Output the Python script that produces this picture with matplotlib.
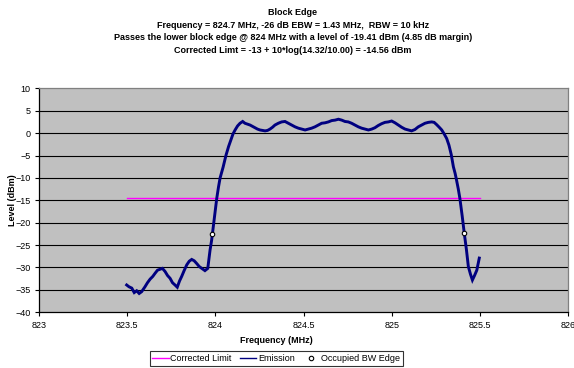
import matplotlib
matplotlib.use("Agg")
import matplotlib.pyplot as plt
from matplotlib.lines import Line2D

plt.rcParams.update({
    "font.family": ["Liberation Sans", "DejaVu Sans"],
    "font.size": 6.5,
})

TITLE = ("Block Edge\n"
         "Frequency = 824.7 MHz, -26 dB EBW = 1.43 MHz,  RBW = 10 kHz\n"
         "Passes the lower block edge @ 824 MHz with a level of -19.41 dBm (4.85 dB margin)\n"
         "Corrected Limt = -13 + 10*log(14.32/10.00) = -14.56 dBm")

# emission trace (centre of the noisy band)
emis_f = [823.497, 823.51, 823.526, 823.54, 823.554, 823.568, 823.582, 823.601,
          823.615, 823.63, 823.645, 823.658, 823.672, 823.686, 823.70, 823.715,
          823.729, 823.743, 823.757, 823.771, 823.784, 823.797, 823.809, 823.824,
          823.838, 823.852, 823.866, 823.880, 823.894, 823.909, 823.923, 823.941,
          823.957, 823.970, 823.979, 823.983, 823.995, 824.008, 824.018, 824.027,
          824.044, 824.06, 824.075, 824.089, 824.10, 824.112, 824.126, 824.14,
          824.155, 824.168, 824.183, 824.197, 824.211, 824.225, 824.239, 824.253,
          824.268, 824.282, 824.296, 824.31, 824.324, 824.338, 824.357, 824.376,
          824.395, 824.414, 824.433, 824.452, 824.471, 824.49, 824.509, 824.527,
          824.546, 824.565, 824.584, 824.603, 824.622, 824.641, 824.66, 824.679,
          824.698, 824.717, 824.735, 824.754, 824.773, 824.792, 824.811, 824.83,
          824.849, 824.868, 824.887, 824.905, 824.924, 824.943, 824.962, 824.981,
          825.0, 825.019, 825.038, 825.057, 825.076, 825.095, 825.113, 825.132,
          825.151, 825.17, 825.189, 825.208, 825.227, 825.241, 825.255, 825.27,
          825.284, 825.298, 825.312, 825.325, 825.338, 825.35, 825.36, 825.368,
          825.378, 825.387, 825.40, 825.412, 825.424, 825.435, 825.447, 825.458,
          825.47, 825.483, 825.497]
emis_db = [-33.9, -34.3, -34.6, -35.6, -35.2, -35.8, -35.4, -34.3,
           -33.4, -32.6, -32.0, -31.3, -30.6, -30.4, -30.2, -30.9,
           -31.8, -32.4, -33.4, -33.9, -34.4, -33.0, -32.0, -30.6,
           -29.4, -28.6, -28.2, -28.5, -29.1, -29.8, -30.2, -30.7,
           -30.2, -26.1, -23.9, -22.6, -18.5, -14.56, -12.0, -10.0,
           -7.6, -5.0, -3.0, -1.4, -0.2, 0.7, 1.6, 2.2,
           2.6, 2.2, 2.0, 1.8, 1.5, 1.2, 0.9, 0.7,
           0.6, 0.5, 0.6, 0.9, 1.3, 1.8, 2.2, 2.5,
           2.6, 2.2, 1.8, 1.4, 1.1, 0.9, 0.7, 0.9,
           1.1, 1.4, 1.8, 2.2, 2.3, 2.5, 2.8, 2.9,
           3.1, 2.9, 2.6, 2.5, 2.2, 1.8, 1.4, 1.1,
           0.9, 0.7, 0.9, 1.2, 1.7, 2.1, 2.4, 2.5,
           2.7, 2.3, 1.8, 1.3, 0.9, 0.7, 0.5, 0.8,
           1.4, 1.8, 2.2, 2.4, 2.5, 2.4, 1.9, 1.3,
           0.7, -0.2, -1.2, -2.7, -4.8, -7.5, -9.0, -10.5,
           -12.5, -14.6, -18.5, -22.4, -26.0, -29.8, -31.5, -32.8,
           -31.8, -30.6, -27.9]

# corrected limit line
limit_f = [823.5, 825.5]
limit_db = [-14.56, -14.56]

# occupied bandwidth edges
obw_f = [823.983, 825.412]
obw_db = [-22.6, -22.4]

x_ticks = [823, 823.5, 824, 824.5, 825, 825.5, 826]
x_labels = ["823", "823.5", "824", "824.5", "825", "825.5", "826"]
y_ticks = list(range(-40, 11, 5))

fig = plt.figure(figsize=(5.74, 3.68), dpi=100)
ax = fig.add_axes([0.068, 0.1514, 0.9215, 0.6086])
ax.set_facecolor("#C0C0C0")

for y in y_ticks[1:-1]:
    ax.axhline(y, color="black", lw=0.8, zorder=1)

ax.plot(limit_f, limit_db, color="#FF00FF", lw=1.0, zorder=2)
ax.plot(emis_f, emis_db, color="#000080", lw=2.1, solid_joinstyle="miter",
        zorder=3)
ax.plot(obw_f, obw_db, ls="none", marker="o", ms=3.2, mfc="white",
        mec="black", mew=0.8, zorder=4)

ax.set_xlim(823, 826)
ax.set_ylim(-40, 10)
ax.set_xticks(x_ticks)
ax.set_xticklabels(x_labels)
ax.set_yticks(y_ticks)
ax.tick_params(direction="out", length=3, width=0.8, labelsize=6.5, pad=3)
for s in ("left", "bottom"):
    ax.spines[s].set_color("black")
    ax.spines[s].set_linewidth(0.9)
for s in ("top", "right"):
    ax.spines[s].set_color("#808080")
    ax.spines[s].set_linewidth(0.9)

ax.set_ylabel("Level (dBm)", fontsize=6.5, fontweight="bold")
ax.yaxis.set_label_coords(-0.042, 0.5)
fig.text(0.481, 0.074, "Frequency (MHz)", ha="center", va="center",
         fontsize=6.5, fontweight="bold")
fig.text(0.51, 0.979, TITLE, ha="center", va="top", fontsize=6.5,
         fontweight="bold", linespacing=1.55)

handles = [Line2D([], [], color="#FF00FF", lw=1.0),
           Line2D([], [], color="#000080", lw=1.0),
           Line2D([], [], ls="none", marker="o", ms=3.2, mfc="white",
                  mec="black", mew=0.8)]
leg = fig.legend(handles, ["Corrected Limit", "Emission", "Occupied BW Edge"],
                 loc="center", bbox_to_anchor=(0.481, 0.026), ncol=3,
                 fontsize=6.5, frameon=True, fancybox=False,
                 edgecolor="black", handlelength=1.8, handletextpad=0.2,
                 columnspacing=0.9, borderpad=0.3)
leg.get_frame().set_linewidth(0.8)

fig.savefig("out.png", dpi=100)
